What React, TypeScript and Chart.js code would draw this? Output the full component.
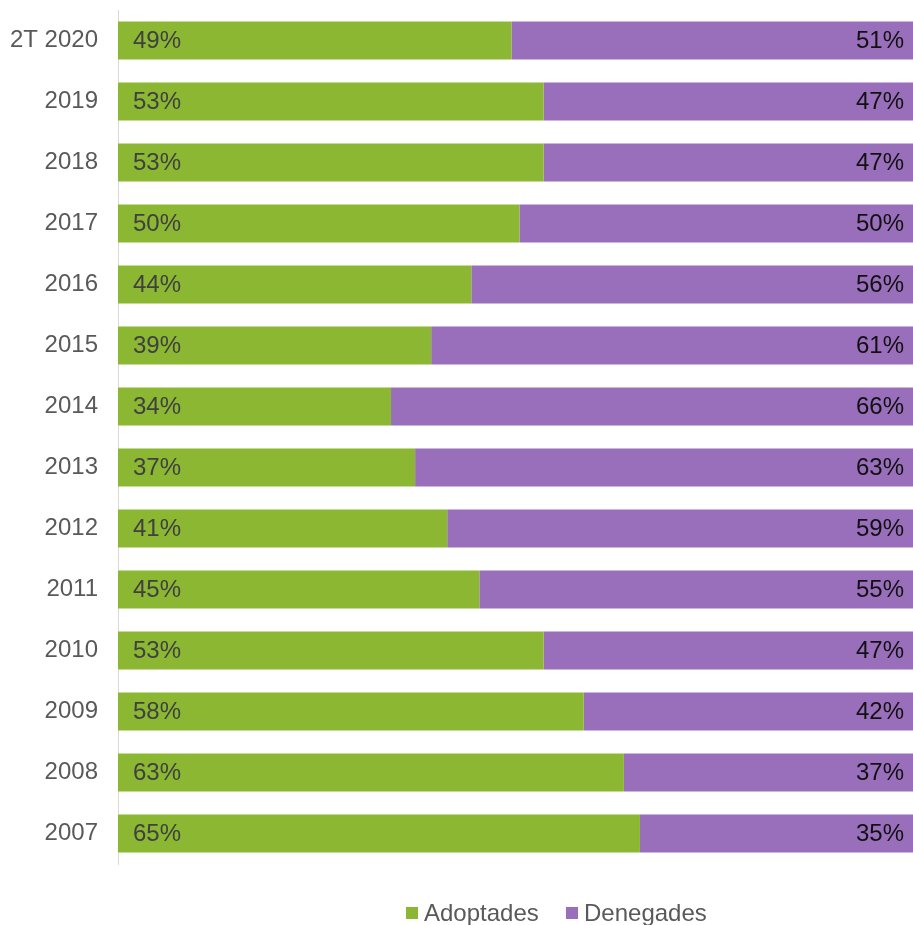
import React, { useEffect, useRef } from "react";
import { Chart, registerables } from "chart.js";

Chart.register(...registerables);

const categories = ["2T 2020", "2019", "2018", "2017", "2016", "2015", "2014", "2013", "2012", "2011", "2010", "2009", "2008", "2007"];
const adoptades = [49, 53, 53, 50, 44, 39, 34, 37, 41, 45, 53, 58, 63, 65];
const denegades = [51, 47, 47, 50, 56, 61, 66, 63, 59, 55, 47, 42, 37, 35];
const seriesNames = ["Adoptades", "Denegades"];

const GREEN = "#8BB733";
const PURPLE = "#996EBB";
const FONT = "'Liberation Sans', Arial, sans-serif";

const labelPlugin = {
  id: "barLabels",
  afterDatasetsDraw(chart: any) {
    const ctx = chart.ctx;
    ctx.save();
    ctx.font = `24px ${FONT}`;
    ctx.textBaseline = "middle";
    const m0 = chart.getDatasetMeta(0);
    m0.data.forEach((bar: any, i: number) => {
      const p = bar.getProps(["x", "y", "base"], true);
      ctx.fillStyle = "#404040";
      ctx.textAlign = "left";
      ctx.fillText(`${adoptades[i]}%`, p.base + 15, p.y + 1);
    });
    const m1 = chart.getDatasetMeta(1);
    m1.data.forEach((bar: any, i: number) => {
      const p = bar.getProps(["x", "y", "base"], true);
      ctx.fillStyle = "#111111";
      ctx.textAlign = "right";
      ctx.fillText(`${denegades[i]}%`, p.x - 17, p.y + 1);
    });
    ctx.restore();
  },
};

export default function App() {
  const ref = useRef<HTMLCanvasElement>(null);
  useEffect(() => {
    if (!ref.current) return;
    const chart = new Chart(ref.current, {
      type: "bar",
      data: {
        labels: categories,
        datasets: [
          { label: seriesNames[0], data: adoptades, backgroundColor: GREEN, barPercentage: 0.625, categoryPercentage: 1 },
          { label: seriesNames[1], data: denegades, backgroundColor: PURPLE, barPercentage: 0.625, categoryPercentage: 1 },
        ],
      },
      options: {
        indexAxis: "y",
        responsive: false,
        animation: false,
        layout: { padding: { top: 10, bottom: 61, left: 0, right: 0 } },
        plugins: { legend: { display: false }, tooltip: { enabled: false } },
        scales: {
          x: { stacked: true, min: 0, max: 100, display: false },
          y: {
            stacked: true,
            grid: { display: false, drawTicks: false },
            border: { display: true, color: "#D9D9D9", width: 1 },
            ticks: { color: "#595959", padding: 20, font: { family: FONT, size: 24 } },
            afterFit: (scale: any) => {
              scale.width = 118;
              scale.paddingTop = 0;
              scale.paddingBottom = 0;
            },
          },
        },
      },
      plugins: [labelPlugin],
    });
    return () => chart.destroy();
  }, []);

  const legendItem = (color: string, text: string, left: number) => (
    <div style={{ position: "absolute", left, top: 899, height: 28, display: "flex", alignItems: "center" }}>
      <div style={{ width: 12, height: 12, background: color, marginRight: 6 }} />
      <span style={{ font: `24px ${FONT}`, color: "#595959", lineHeight: "28px" }}>{text}</span>
    </div>
  );

  return (
    <div style={{ position: "fixed", left: 0, top: 0, width: 913, height: 925, overflow: "hidden", background: "#fff" }}>
      <canvas ref={ref} width={921} height={925} style={{ width: 921, height: 925, display: "block" }} />
      {legendItem(GREEN, seriesNames[0], 406)}
      {legendItem(PURPLE, seriesNames[1], 566)}
    </div>
  );
}
